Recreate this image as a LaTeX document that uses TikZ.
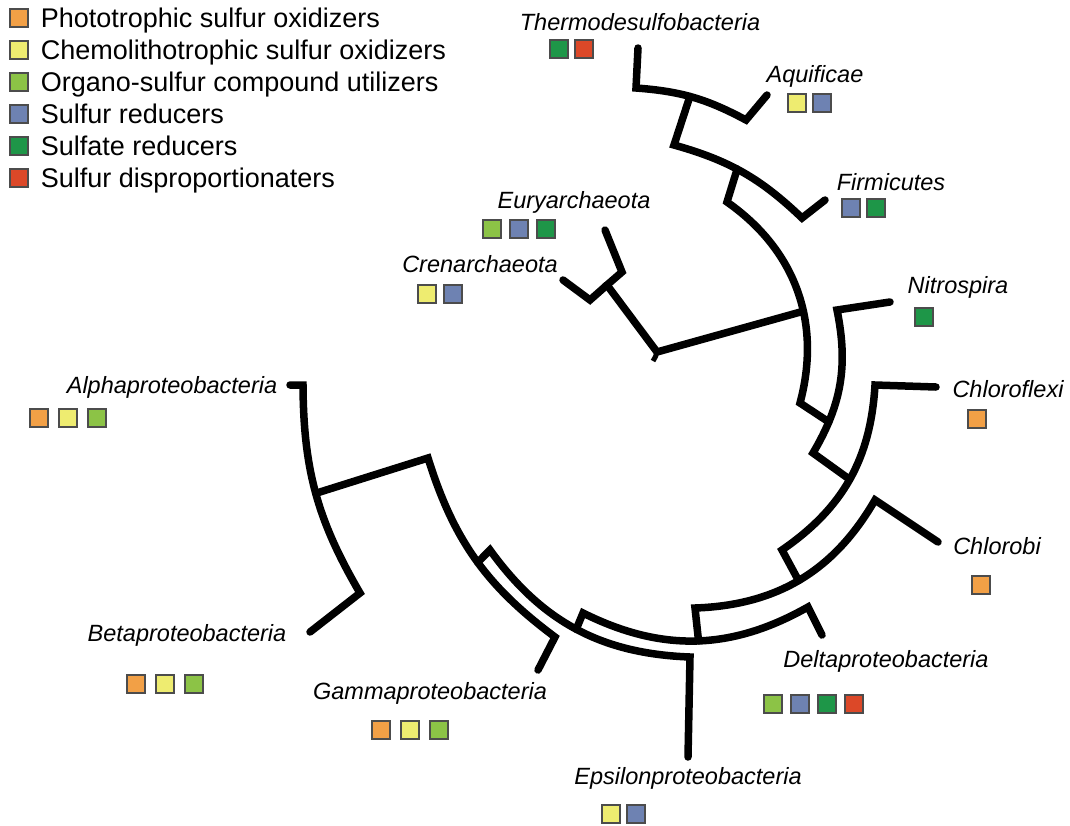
\documentclass[tikz,border=0pt]{standalone}
\usepackage{fontspec}
\setmainfont{Liberation Sans}
\usetikzlibrary{positioning}
\definecolor{photo}{RGB}{242,160,70}
\definecolor{chemo}{RGB}{238,236,112}
\definecolor{organo}{RGB}{140,195,70}
\definecolor{sred}{RGB}{110,130,178}
\definecolor{sulfate}{RGB}{30,150,72}
\definecolor{dispro}{RGB}{220,72,40}

\begin{document}
\begin{tikzpicture}[x=1pt,y=-1pt,node distance=27pt,
    branch/.style={line width=7.5pt,line cap=round},
    taxon/.style={font=\fontsize{23.5}{28}\selectfont\itshape,inner sep=0pt,text height=16.8pt,text depth=0pt},
    trait/.style={draw=black!70,line width=1.2pt,fill=#1,minimum size=18pt,inner sep=0pt},
    legtext/.style={font=\fontsize{27}{32}\selectfont,inner sep=0pt,text height=19.3pt,text depth=0pt}]
    \useasboundingbox (0,0) rectangle (1070,825);

    % legend
    \node[trait=photo] (leg1) at (19,18) {};
    \node[trait=chemo] (leg2) at (19,50) {};
    \node[trait=organo] (leg3) at (19,82) {};
    \node[trait=sred] (leg4) at (19,114) {};
    \node[trait=sulfate] (leg5) at (19,146) {};
    \node[trait=dispro] (leg6) at (19,178) {};
    \node[legtext, right=12pt of leg1] (legtext1) {Phototrophic sulfur oxidizers};
    \node[legtext, right=12pt of leg2] (legtext2) {Chemolithotrophic sulfur oxidizers};
    \node[legtext, right=12pt of leg3] (legtext3) {Organo-sulfur compound utilizers};
    \node[legtext, right=12pt of leg4] (legtext4) {Sulfur reducers};
    \node[legtext, right=12pt of leg5] (legtext5) {Sulfate reducers};
    \node[legtext, right=12pt of leg6] (legtext6) {Sulfur disproportionaters};

    % tree corners and tips
    \coordinate (thermoTip) at (638,48);
    \coordinate (thermoC) at (636,88);
    \coordinate (aquiC) at (746,120);
    \coordinate (aquiTip) at (767,95);
    \coordinate (n1b) at (674,145);
    \coordinate (firmiC) at (802,218);
    \coordinate (firmiTip) at (825,200);
    \coordinate (n2b) at (727,202);
    \coordinate (aEnd) at (800,403);
    \coordinate (nitroC) at (837,310);
    \coordinate (nitroTip) at (890,302);
    \coordinate (bEnd) at (813,453);
    \coordinate (flexiC) at (875,385);
    \coordinate (flexiTip) at (936,387);
    \coordinate (cEnd) at (782,550);
    \coordinate (chlorobiC) at (875,500);
    \coordinate (chlorobiTip) at (938,542);
    \coordinate (dEnd) at (695,608);
    \coordinate (deltaC) at (808,607);
    \coordinate (deltaTip) at (822,635);
    \coordinate (eLeft) at (583,613);
    \coordinate (epsC) at (690,657);
    \coordinate (epsTip) at (688,757);
    \coordinate (fLeft) at (490,550);
    \coordinate (gammaC) at (555,637);
    \coordinate (gammaTip) at (538,670);
    \coordinate (hStart) at (428,458);
    \coordinate (alphaTip) at (290,385);
    \coordinate (alphaC) at (303,385);
    \coordinate (betaC) at (360,593);
    \coordinate (betaTip) at (310,632);
    \coordinate (root) at (657,352);
    \coordinate (arJ) at (607,285);
    \coordinate (euryC) at (622,272);
    \coordinate (euryTip) at (605,230);
    \coordinate (crenC) at (590,300);
    \coordinate (crenTip) at (563,280);

    % arcs, outermost first
    \draw[branch] (betaTip) -- (betaC) to[bend left=15] coordinate[pos=.5] (gJ) (alphaC) -- (alphaTip);
    \draw[branch] (gammaTip) -- (gammaC) to[bend left=18] coordinate[pos=.48] (hJ) (hStart) -- (gJ);
    \draw[branch] (epsTip) -- (epsC) to[bend left=26] coordinate[pos=.5] (fJ) (fLeft) -- (hJ);
    \draw[branch] (deltaTip) -- (deltaC) to[bend left=28] coordinate[pos=.49] (eJ) (eLeft) -- (fJ);
    \draw[branch] (chlorobiTip) -- (chlorobiC) to[bend left=29] coordinate[pos=.51] (dJ) (dEnd) -- (eJ);
    \draw[branch] (flexiTip) -- (flexiC) to[bend left=26] coordinate[pos=.5] (cJ) (cEnd) -- (dJ);
    \draw[branch] (nitroTip) -- (nitroC) to[bend left=21] coordinate[pos=.78] (bJ) (bEnd) -- (cJ);
    \draw[branch] (thermoTip) -- (thermoC) to[bend left=12] coordinate[pos=.47] (n1) (aquiC) -- (aquiTip);
    \draw[branch] (n1) -- (n1b) to[bend left=14] coordinate[pos=.45] (n2) (firmiC) -- (firmiTip);
    \draw[branch] (n2) -- (n2b) to[bend left=35] coordinate[pos=.6] (rootJ) (aEnd) -- (bJ);

    % root and archaea
    \draw[branch] (rootJ) -- (root) -- (arJ) -- (euryC) -- (euryTip);
    \draw[branch] (arJ) -- (crenC) -- (crenTip);
    \draw[line width=5pt] (root) to[out=-100,in=60] ++(-4,9);

    % taxa
    \node[taxon] (thermo) at (640,22) {Thermodesulfobacteria};
    \node[trait=sulfate] (thermo1) at (559,49) {};
    \node[trait=dispro, right of=thermo1, node distance=25pt] (thermo2) {};
    \node[taxon] (aqui) at (815,74) {Aquificae};
    \node[trait=chemo] (aqui1) at (797,103) {};
    \node[trait=sred, right of=aqui1, node distance=25pt] (aqui2) {};
    \node[taxon] (firmi) at (891,182) {Firmicutes};
    \node[trait=sred] (firmi1) at (851,208) {};
    \node[trait=sulfate, right of=firmi1, node distance=25pt] (firmi2) {};
    \node[taxon] (eury) at (574,200) {Euryarchaeota};
    \node[trait=organo] (eury1) at (492,229) {};
    \node[trait=sred, right of=eury1] (eury2) {};
    \node[trait=sulfate, right of=eury2] (eury3) {};
    \node[taxon] (cren) at (480,264) {Crenarchaeota};
    \node[trait=chemo] (cren1) at (427,294) {};
    \node[trait=sred, right of=cren1, node distance=26pt] (cren2) {};
    \node[taxon] (nitro) at (958,285) {Nitrospira};
    \node[trait=sulfate] (nitro1) at (924,317) {};
    \node[taxon] (flexi) at (1008,389) {Chloroflexi};
    \node[trait=photo] (flexi1) at (977,419) {};
    \node[taxon] (chlorobi) at (997,546) {Chlorobi};
    \node[trait=photo] (chlorobi1) at (981,585) {};
    \node[taxon] (delta) at (886,659) {Deltaproteobacteria};
    \node[trait=organo] (delta1) at (773,704) {};
    \node[trait=sred, right of=delta1] (delta2) {};
    \node[trait=sulfate, right of=delta2] (delta3) {};
    \node[trait=dispro, right of=delta3] (delta4) {};
    \node[taxon] (eps) at (688,776) {Epsilonproteobacteria};
    \node[trait=chemo] (eps1) at (611,814) {};
    \node[trait=sred, right of=eps1, node distance=25pt] (eps2) {};
    \node[taxon] (gamma) at (430,691) {Gammaproteobacteria};
    \node[trait=photo] (gamma1) at (381,730) {};
    \node[trait=chemo, right of=gamma1, node distance=29pt] (gamma2) {};
    \node[trait=organo, right of=gamma2, node distance=29pt] (gamma3) {};
    \node[taxon] (beta) at (187,633) {Betaproteobacteria};
    \node[trait=photo] (beta1) at (136,684) {};
    \node[trait=chemo, right of=beta1, node distance=29pt] (beta2) {};
    \node[trait=organo, right of=beta2, node distance=29pt] (beta3) {};
    \node[taxon] (alpha) at (172,385) {Alphaproteobacteria};
    \node[trait=photo] (alpha1) at (39,418) {};
    \node[trait=chemo, right of=alpha1, node distance=29pt] (alpha2) {};
    \node[trait=organo, right of=alpha2, node distance=29pt] (alpha3) {};
\end{tikzpicture}
\end{document}
